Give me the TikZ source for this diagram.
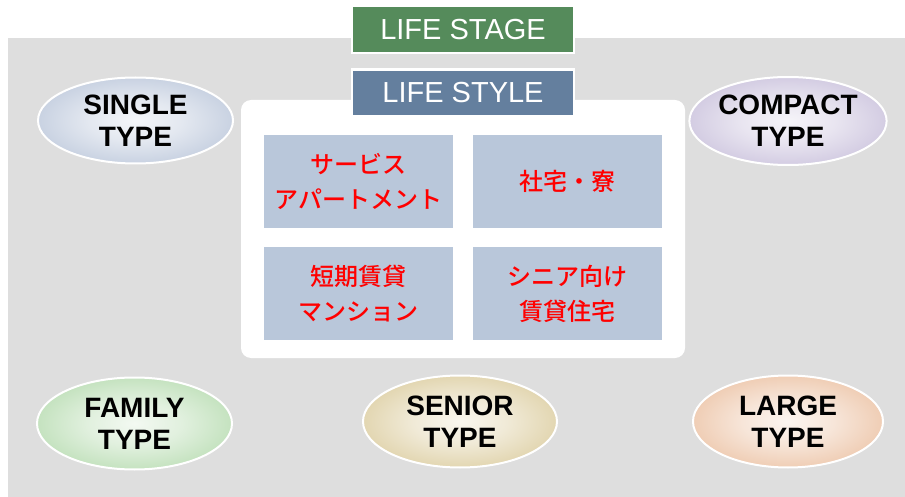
\documentclass[tikz,border=0pt]{standalone}
\usepackage{fontspec}
\setmainfont{Liberation Sans}
\newfontfamily\jpfont{Noto Sans CJK JP Medium}
\usetikzlibrary{shapes.geometric}
\definecolor{bggray}{RGB}{222,222,222}
\definecolor{stagegreen}{RGB}{85,139,91}
\definecolor{styleblue}{RGB}{100,127,158}
\definecolor{boxblue}{RGB}{185,199,218}
\definecolor{singlec}{RGB}{162,178,205}
\definecolor{compactc}{RGB}{180,168,206}
\definecolor{familyc}{RGB}{155,206,146}
\definecolor{seniorc}{RGB}{206,185,122}
\definecolor{largec}{RGB}{228,170,128}
\pgfdeclareradialshading{shsingle}{\pgfpointorigin}{color(0bp)=(white!88!singlec); color(12bp)=(white!70!singlec); color(44bp)=(singlec); color(50bp)=(singlec)}
\pgfdeclareradialshading{shcompact}{\pgfpointorigin}{color(0bp)=(white!88!compactc); color(12bp)=(white!70!compactc); color(44bp)=(compactc); color(50bp)=(compactc)}
\pgfdeclareradialshading{shfamily}{\pgfpointorigin}{color(0bp)=(white!88!familyc); color(12bp)=(white!70!familyc); color(44bp)=(familyc); color(50bp)=(familyc)}
\pgfdeclareradialshading{shsenior}{\pgfpointorigin}{color(0bp)=(white!88!seniorc); color(12bp)=(white!70!seniorc); color(44bp)=(seniorc); color(50bp)=(seniorc)}
\pgfdeclareradialshading{shlarge}{\pgfpointorigin}{color(0bp)=(white!88!largec); color(12bp)=(white!70!largec); color(44bp)=(largec); color(50bp)=(largec)}
\tikzset{
  titlebox/.style={draw=white, line width=2.5pt, text=white, minimum width=222pt, minimum height=47pt, inner sep=0pt, font=\fontsize{29}{34}\selectfont},
  typeell/.style={ellipse, draw=white, line width=2pt, inner sep=0pt, align=center, font=\fontsize{28}{32}\selectfont\bfseries},
  stylecell/.style={fill=boxblue, minimum width=189pt, minimum height=93pt, inner sep=0pt, align=center, text=red, font=\jpfont\fontsize{24}{35}\selectfont},
}
\begin{document}
\begin{tikzpicture}[x=1pt,y=-1pt]
\useasboundingbox (0,0) rectangle (905,497);
\fill[bggray] (8,38) rectangle (905,497);
\fill[white, rounded corners=10pt] (241,100) rectangle (685,358);
\node[titlebox, fill=stagegreen] (stage) at (463,29.5) {LIFE STAGE};
\node[titlebox, fill=styleblue] (style) at (463,93) {LIFE STYLE};
\node[stylecell] (serv) at (358.5,181.5) {サービス\\アパートメント};
\node[stylecell] (shataku) at (567,181.5) {社宅・寮};
\node[stylecell] (tanki) at (358.5,293.5) {短期賃貸\\マンション};
\node[stylecell] (senior) at (567,293.5) {シニア向け\\賃貸住宅};
\node[typeell, shading=shsingle, minimum width=195pt, minimum height=86pt] (single) at (135.5,120.5) {SINGLE\\TYPE};
\node[typeell, shading=shcompact, minimum width=190pt, minimum height=88pt] (compact) at (788,121) {COMPACT\\TYPE};
\node[typeell, shading=shfamily, minimum width=195pt, minimum height=92pt] (family) at (134.5,423.5) {FAMILY\\TYPE};
\node[typeell, shading=shsenior, minimum width=194pt, minimum height=92pt] (seniort) at (460,421.5) {SENIOR\\TYPE};
\node[typeell, shading=shlarge, minimum width=190pt, minimum height=92pt] (large) at (788,421.5) {LARGE\\TYPE};
\end{tikzpicture}
\end{document}
